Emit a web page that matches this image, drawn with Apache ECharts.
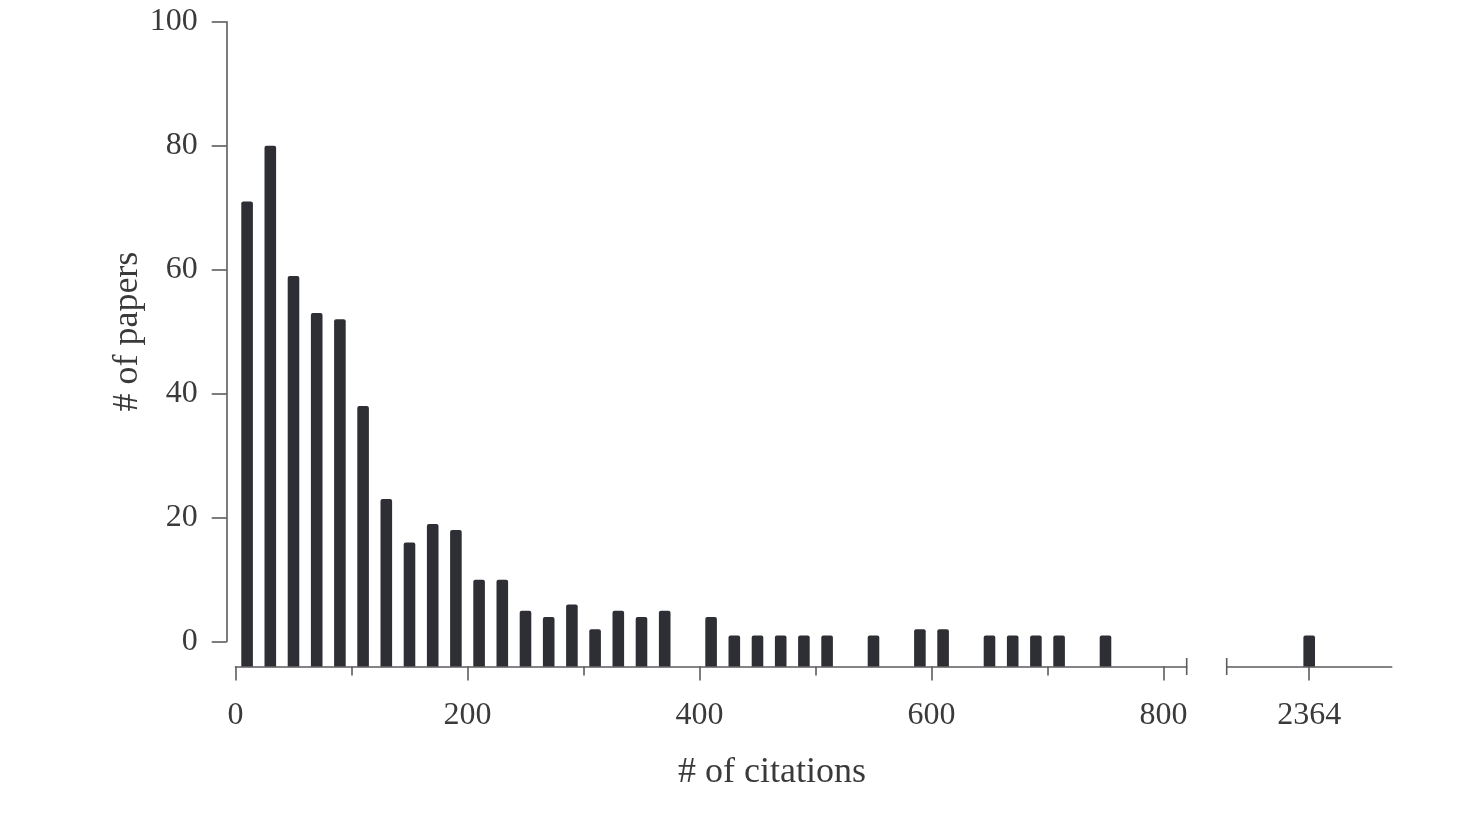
<!DOCTYPE html>
<html>
<head>
<meta charset="utf-8">
<title># of citations</title>
<script src="https://cdn.jsdelivr.net/npm/echarts@6/dist/echarts.min.js"></script>
<style>
  html, body { margin: 0; padding: 0; background: #fff; }
  #citeChart { width: 1468px; height: 820px; }
</style>
</head>
<body>
<div id="citeChart"></div>
<script>
// bins of 20 citations, value = bin centre
const citationBins = [10, 30, 50, 70, 90, 110, 130, 150, 170, 190,
    210, 230, 250, 270, 290, 310, 330, 350, 370, 390,
    410, 430, 450, 470, 490, 510, 530, 550, 570, 590,
    610, 630, 650, 670, 690, 710, 730, 750, 770, 790];
const paperCounts = [71, 80, 59, 53, 52, 38, 23, 16, 19, 18,
    10, 10, 5, 4, 6, 2, 5, 4, 5, 0,
    4, 1, 1, 1, 1, 1, 0, 1, 0, 2,
    2, 0, 1, 1, 1, 1, 0, 1, 0, 0];
// the outlier after the axis break
const outlierBins = [2364];
const outlierCounts = [1];

const xMajorTicks = [0, 200, 400, 600, 800];
const xMinorTicks = [100, 300, 500, 700];
const outlierTicks = [2364];

document.addEventListener('DOMContentLoaded', function () {
    const chart = echarts.init(document.getElementById('citeChart'));

    const FONT = 'Liberation Serif';
    const TEXT_COLOR = '#3a3a3a';
    const AXIS_COLOR = '#5c5c5c';
    const BAR_COLOR = '#2d2f34';
    const BIN_WIDTH = 20;
    const Y_FLOOR = -4;   // bars hang below 0 down to the x axis line

    function renderBar(params, api) {
        const x = api.value(0);
        const v = api.value(1);
        if (!v) {
            return null;
        }
        const top = api.coord([x, v]);
        const base = api.coord([x, Y_FLOOR]);
        const w = api.size([BIN_WIDTH * 0.5, 0])[0];
        return {
            type: 'rect',
            shape: { x: top[0] - w / 2, y: top[1], width: w, height: base[1] - top[1], r: [2, 2, 0, 0] },
            style: { fill: BAR_COLOR }
        };
    }

    const axisLineStyle = { color: AXIS_COLOR, width: 1.6 };
    const labelStyle = {
        color: TEXT_COLOR,
        fontFamily: FONT,
        fontSize: 32,
        formatter: function (v) { return String(v); }
    };

    const option = {
        animation: false,
        backgroundColor: '#fff',
        grid: [
            { left: 235.5, right: 281.3, top: 21.7, bottom: 153.5 },   // main bars
            { left: 1226.7, right: 76.3, top: 21.7, bottom: 153.5 },   // after the break
            { left: 226.7, width: 10, top: 21.7, bottom: 178.5 }       // y axis only
        ],
        xAxis: [
            {
                gridIndex: 0, type: 'value', position: 'bottom', min: 0, max: 820,
                splitLine: { show: false },
                axisLine: { onZero: false, lineStyle: axisLineStyle, symbol: ['none', 'rect'], symbolSize: [17, 1.6] },
                axisTick: { customValues: xMajorTicks, length: 14, lineStyle: axisLineStyle },
                axisLabel: Object.assign({ customValues: xMajorTicks, margin: 33 }, labelStyle)
            },
            {
                gridIndex: 0, type: 'value', position: 'bottom', min: 0, max: 820,
                splitLine: { show: false },
                axisLine: { show: false, onZero: false },
                axisTick: { customValues: xMinorTicks, length: 9, lineStyle: axisLineStyle },
                axisLabel: { show: false }
            },
            {
                gridIndex: 1, type: 'value', position: 'bottom', min: 2293, max: 2435,
                splitLine: { show: false },
                axisLine: { onZero: false, lineStyle: axisLineStyle, symbol: ['rect', 'none'], symbolSize: [17, 1.6] },
                axisTick: { customValues: outlierTicks, length: 14, lineStyle: axisLineStyle },
                axisLabel: Object.assign({ customValues: outlierTicks, margin: 33 }, labelStyle)
            },
            { gridIndex: 2, type: 'value', show: false }
        ],
        yAxis: [
            { gridIndex: 0, type: 'value', min: Y_FLOOR, max: 100, show: false },
            { gridIndex: 1, type: 'value', min: Y_FLOOR, max: 100, show: false },
            {
                gridIndex: 2, type: 'value', min: 0, max: 100, interval: 20,
                name: '# of papers',
                nameLocation: 'middle',
                nameGap: 80,
                nameTextStyle: { color: TEXT_COLOR, fontFamily: FONT, fontSize: 36 },
                splitLine: { show: false },
                axisLine: { show: true, lineStyle: axisLineStyle },
                axisTick: { show: true, length: 15, lineStyle: axisLineStyle },
                axisLabel: Object.assign({ margin: 29 }, labelStyle)
            }
        ],
        graphic: [
            {
                type: 'text',
                x: 772,
                y: 773,
                style: {
                    text: '# of citations',
                    fill: TEXT_COLOR,
                    font: '36px "' + FONT + '"',
                    textAlign: 'center',
                    textVerticalAlign: 'middle'
                }
            }
        ],
        series: [
            {
                type: 'custom',
                xAxisIndex: 0,
                yAxisIndex: 0,
                renderItem: renderBar,
                data: citationBins.map(function (b, i) { return [b, paperCounts[i]]; })
            },
            {
                type: 'custom',
                xAxisIndex: 2,
                yAxisIndex: 1,
                renderItem: renderBar,
                data: outlierBins.map(function (b, i) { return [b, outlierCounts[i]]; })
            }
        ]
    };

    chart.setOption(option);

    window.addEventListener('resize', function () {
        chart.resize();
    });
});
</script>
</body>
</html>
